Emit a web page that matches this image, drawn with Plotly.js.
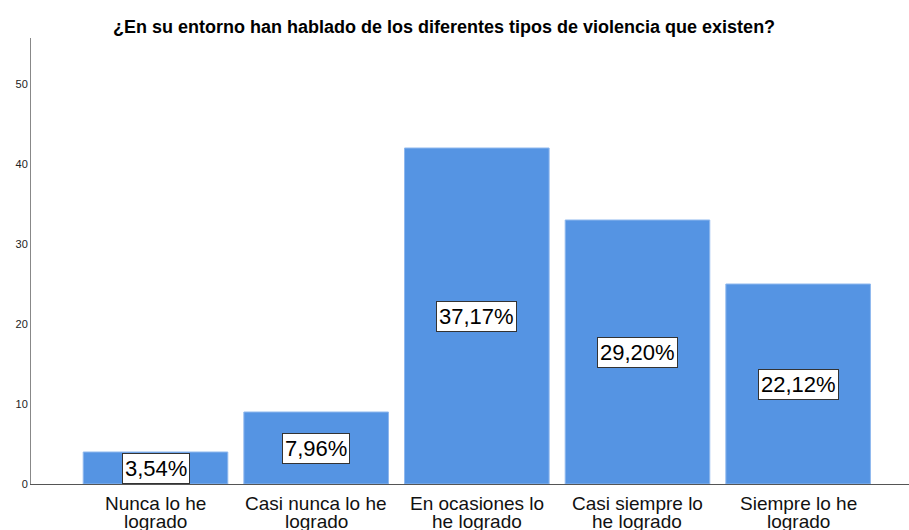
<!DOCTYPE html>
<html><head><meta charset="utf-8">
<script src="https://cdn.plot.ly/plotly-3.0.1.min.js"></script>
<style>body{margin:0;padding:0;background:#fff}#c{width:909px;height:530px}</style>
</head><body><div id="c"></div>
<script>
const categories = ["Nunca lo he<br>logrado","Casi nunca lo he<br>logrado","En ocasiones lo<br>he logrado","Casi siempre lo<br>he logrado","Siempre lo he<br>logrado"];
const counts = [4, 9, 42, 33, 25];
const percentLabels = ["3,54%","7,96%","37,17%","29,20%","22,12%"];
const yTicks = [0,10,20,30,40,50];

const FONT = 'Liberation Sans, Arial, sans-serif';
const trace = {
  type: 'bar', x: categories, y: counts, width: 0.9,
  marker: {color: '#5594E3', line: {color: '#8fb8ee', width: 1}},
  hoverinfo: 'skip'
};
const annotations = categories.map((c,i)=>({
  x: c, y: counts[i]/2, xref:'x', yref:'y', text: percentLabels[i], showarrow:false,
  font:{family:FONT, size:22, color:'#000'},
  bgcolor:'#ffffff', bordercolor:'#333333', borderwidth:1, borderpad:2
}));
categories.forEach((c,i)=>{
  c.split('<br>').forEach((line,j)=>{
    annotations.push({x:c, xref:'x', yref:'paper', y:0, yanchor:'middle', yshift:-19-18*j,
      text:line, showarrow:false, font:{family:FONT, size:19, color:'#111'}});
  });
});
annotations.push({xref:'paper', yref:'paper', x:0.47, y:1, yshift:11, xanchor:'center', yanchor:'middle', showarrow:false,
  text:'<b>¿En su entorno han hablado de los diferentes tipos de violencia que existen?</b>',
  font:{family:FONT, size:18, color:'#000'}});
const layout = {
  width:909, height:530,
  margin:{l:31, r:0, t:38, b:46},
  paper_bgcolor:'#fff', plot_bgcolor:'#fff',
  showlegend:false,
  xaxis:{type:'category', range:[-0.775,4.69], showgrid:false, zeroline:false,
    showline:true, linecolor:'#555', linewidth:1, ticks:'', showticklabels:false},
  yaxis:{range:[0,55.75], tickvals:yTicks, showgrid:false, zeroline:false,
    showline:true, linecolor:'#888', linewidth:1, ticks:'', 
    tickfont:{family:FONT, size:11, color:'#222'}},
  annotations: annotations
};
Plotly.newPlot('c',[trace],layout,{displayModeBar:false, staticPlot:true});
</script></body></html>
